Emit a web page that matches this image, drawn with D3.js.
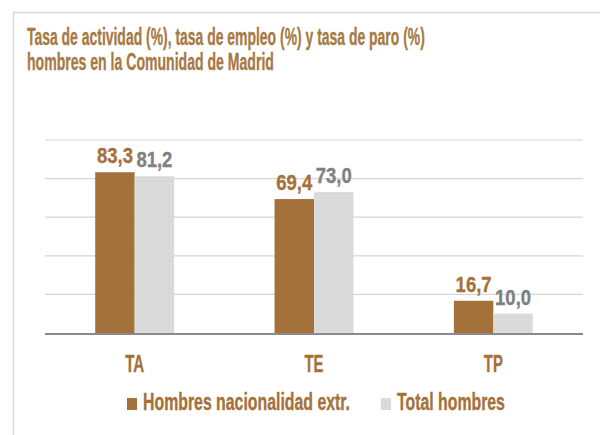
<!DOCTYPE html>
<html><head><meta charset="utf-8">
<script src="https://cdn.jsdelivr.net/npm/d3@7"></script>
<style>html,body{margin:0;padding:0;background:#fff}svg{display:block}</style>
</head><body>
<script>
const categories = ["TA", "TE", "TP"];
const seriesNames = ["Hombres nacionalidad extr.", "Total hombres"];
const extranjeros = [83.3, 69.4, 16.7];
const totalHombres = [81.2, 73.0, 10.0];
const yTicks = [0, 20, 40, 60, 80, 100];
const titleLines = ["Tasa de actividad (%), tasa de empleo (%) y tasa de paro (%)", "hombres en la Comunidad de Madrid"];

const W = 600, H = 435;
const brown = "#A5713A", gray = "#DADADA", grayText = "#808080", titleColor = "#A67A45";
const FONT = "'Liberation Sans Narrow','Liberation Sans',Arial,sans-serif";

const svg = d3.select("body").append("svg").attr("width", W).attr("height", H);
const defs = svg.append("defs");
const pat = defs.append("pattern").attr("id", "dots").attr("patternUnits", "userSpaceOnUse")
  .attr("width", 4).attr("height", 4);
pat.append("rect").attr("width", 4).attr("height", 4).attr("fill", gray);
pat.append("rect").attr("x", 1).attr("y", 1).attr("width", 1).attr("height", 1).attr("fill", "#CECECE");
pat.append("rect").attr("x", 3).attr("y", 3).attr("width", 1).attr("height", 1).attr("fill", "#E2E2E2");

// frame
svg.append("path").attr("d", `M13.5,${H} V12.5 H${W}`).attr("fill", "none")
  .attr("stroke", "#D9D9D9").attr("stroke-width", 1.5);

function heavy(sel, color) {
  return sel.attr("font-family", FONT).attr("font-weight", "bold")
    .attr("fill", color).attr("stroke", color).attr("stroke-width", 0.35);
}
// squeeze a text horizontally to a target width (anchor point kept)
function fit(sel, px, py, targetW) {
  sel.each(function() {
    const t = d3.select(this);
    const w = this.getComputedTextLength();
    const sx = w > 0 ? targetW / w : 1;
    t.attr("x", 0).attr("y", 0).attr("transform", `translate(${px},${py}) scale(${sx},1)`);
  });
}

// title
const tW = [398, 247];
titleLines.forEach((t, i) => {
  const tx = heavy(svg.append("text").text(t).attr("font-size", 23.5), titleColor);
  fit(tx, 27, 45 + i * 25, tW[i]);
});

const x = d3.scaleBand().domain(categories).range([45, 583]).paddingInner(0).paddingOuter(0);
const y = d3.scaleLinear().domain([0, 100]).range([333, 140]);
const groupW = x.bandwidth() * 0.44;
const xs = d3.scaleBand().domain(seriesNames).range([0, groupW]);

// gridlines
svg.append("g").selectAll("line").data(yTicks.filter(d => d > 0)).join("line")
  .attr("x1", 45).attr("x2", 583).attr("y1", d => y(d)).attr("y2", d => y(d))
  .attr("stroke", "#D6D6D6").attr("stroke-width", 1.2);

const data = [];
categories.forEach((c, i) => {
  data.push({c, s: seriesNames[0], v: extranjeros[i]});
  data.push({c, s: seriesNames[1], v: totalHombres[i]});
});
const off = (x.bandwidth() - groupW) / 2;

svg.append("g").selectAll("rect").data(data).join("rect")
  .attr("x", d => x(d.c) + off + xs(d.s))
  .attr("width", xs.bandwidth())
  .attr("y", d => y(d.v)).attr("height", d => y(0) - y(d.v))
  .attr("fill", d => d.s === seriesNames[0] ? brown : "url(#dots)");

// baseline
svg.append("line").attr("x1", 45).attr("x2", 583).attr("y1", y(0) + 1).attr("y2", y(0) + 1)
  .attr("stroke", "#8A8A8A").attr("stroke-width", 2);

// value labels
const vl = svg.append("g").selectAll("text").data(data).join("text")
  .attr("text-anchor", "middle")
  .attr("font-size", 22.5)
  .text(d => d3.format(".1f")(d.v).replace(".", ","));
vl.each(function(d) {
  const s = d3.select(this);
  heavy(s, d.s === seriesNames[0] ? brown : grayText);
  fit(s, x(d.c) + off + xs(d.s) + xs.bandwidth() / 2, y(d.v) - 9, 36);
});

// x axis labels
const xAxis = d3.axisBottom(x).tickSize(0).tickPadding(0);
const gx = svg.append("g").attr("transform", `translate(0,${y(0)})`).call(xAxis);
gx.select(".domain").remove();
const xt = heavy(gx.selectAll("text").attr("dy", 0).attr("font-size", 23), brown);
fit(xt, 0, 39, 19);

// legend
const legend = [
  {name: seriesNames[0], fill: brown, x: 127, tw: 207},
  {name: seriesNames[1], fill: "url(#dots)", x: 381, tw: 108}
];
const lg = svg.append("g");
legend.forEach(l => {
  lg.append("rect").attr("x", l.x).attr("y", 398).attr("width", 10).attr("height", 12).attr("fill", l.fill);
  const t = heavy(lg.append("text").text(l.name).attr("font-size", 23), brown);
  fit(t, l.x + 16, 410, l.tw);
});
</script>
</body></html>
